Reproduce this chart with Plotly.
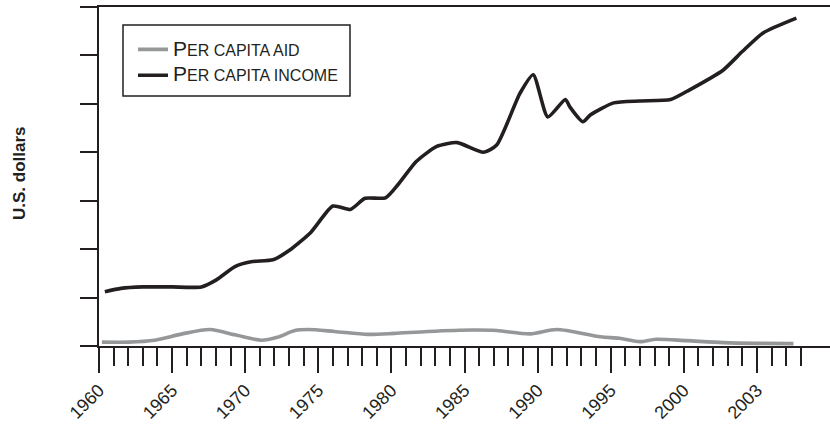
import plotly.graph_objects as go

# ---- data (y in axis units, axis has no numeric labels) ----
income_years = [1960.4, 1961.5, 1963.0, 1965.0, 1967.0, 1968.0, 1969.3, 1970.4, 1971.9, 1973.0,
                1974.5, 1976.0, 1977.2, 1978.2, 1979.6, 1980.5, 1981.7, 1983.1, 1984.5, 1986.3,
                1987.2, 1988.8, 1989.7, 1990.7, 1991.9, 1992.2, 1993.1, 1993.6, 1995.2, 1997.0,
                1999.1, 2000.4, 2002.7, 2004.0, 2005.4, 2007.7]
income_values = [1.12, 1.19, 1.22, 1.22, 1.22, 1.36, 1.64, 1.74, 1.78, 1.97,
                 2.35, 2.89, 2.82, 3.05, 3.06, 3.35, 3.81, 4.12, 4.20, 4.00,
                 4.15, 5.22, 5.60, 4.73, 5.09, 4.94, 4.63, 4.77, 5.02, 5.06,
                 5.09, 5.29, 5.70, 6.08, 6.46, 6.77]

aid_years = [1960.2, 1962.0, 1963.8, 1965.7, 1967.6, 1969.3, 1971.1, 1972.2, 1973.4, 1974.3,
             1976.1, 1978.4, 1980.2, 1982.5, 1985.6, 1987.2, 1989.5, 1991.3, 1994.3, 1995.6,
             1997.0, 1998.1, 2000.2, 2002.7, 2005.0, 2007.5]
aid_values = [0.08, 0.08, 0.12, 0.25, 0.34, 0.23, 0.12, 0.18, 0.32, 0.34,
              0.30, 0.24, 0.26, 0.30, 0.33, 0.32, 0.25, 0.34, 0.19, 0.16,
              0.09, 0.14, 0.11, 0.07, 0.055, 0.05]

label_years = [1960, 1965, 1970, 1975, 1980, 1985, 1990, 1995, 2000, 2005]
label_texts = ["1960", "1965", "1970", "1975", "1980", "1985", "1990", "1995", "2000", "2003"]
minor_years = [y for y in range(1960, 2009) if y % 5 != 0]

series_names = ["<span style='font-size:21px'>P</span>ER CAPITA AID",
                "<span style='font-size:21px'>P</span>ER CAPITA INCOME"]

INK = "#231f20"
GREY = "#959799"
FONT = "Liberation Sans, Arial, sans-serif"

fig = go.Figure()
fig.add_trace(go.Scatter(x=aid_years, y=aid_values, mode="lines", name=series_names[0],
                         legendgroup="a",
                         line=dict(color=GREY, width=3.6, shape="spline", smoothing=0.8)))
fig.add_trace(go.Scatter(x=income_years, y=income_values, mode="lines", name=series_names[1],
                         legendgroup="b",
                         line=dict(color=INK, width=3.6, shape="spline", smoothing=0.6)))

W, H = 830, 424
L, R, T, B = 99, 0, 7, 78
pw, ph = W - L - R, H - T - B

def px_x(x):
    return (x - L) / pw

def px_y(y):
    return (H - B - y) / ph

# legend frame
fig.add_shape(type="rect", xref="paper", yref="paper",
              x0=px_x(123), x1=px_x(350), y0=px_y(96), y1=px_y(25),
              line=dict(color=INK, width=1.5), fillcolor="rgba(0,0,0,0)", layer="above")

fig.add_annotation(text="<b>U.S. dollars</b>", xref="paper", yref="paper",
                   x=px_x(19), y=px_y(173), textangle=-90, showarrow=False,
                   font=dict(family=FONT, size=17, color=INK),
                   xanchor="center", yanchor="middle")

fig.update_layout(
    width=W, height=H,
    margin=dict(l=L, r=R, t=T, b=B, pad=0),
    paper_bgcolor="white", plot_bgcolor="white",
    font=dict(family=FONT, size=16, color=INK),
    showlegend=True,
    legend=dict(x=px_x(133), y=px_y(32.5), xanchor="left", yanchor="top",
                bgcolor="rgba(0,0,0,0)", borderwidth=0,
                font=dict(family=FONT, size=16, color=INK),
                traceorder="grouped", tracegroupgap=2),
    xaxis=dict(range=[1960, 2010], showgrid=False, zeroline=False,
               showline=True, linecolor=INK, linewidth=1.6, mirror=True,
               ticks="outside", ticklen=25, tickwidth=1.6, tickcolor=INK,
               tickmode="array", tickvals=label_years, ticktext=label_texts,
               tickangle=-45, tickfont=dict(family=FONT, size=18, color=INK),
               automargin=False,
               minor=dict(tickmode="array", tickvals=minor_years, ticks="outside",
                          ticklen=18, tickwidth=1.6, tickcolor=INK, showgrid=False)),
    yaxis=dict(range=[0, 7], showgrid=False, zeroline=False,
               showline=True, linecolor=INK, linewidth=1.6,
               ticks="outside", ticklen=17, tickwidth=1.6, tickcolor=INK,
               tickmode="array", tickvals=[0, 1, 2, 3, 4, 5, 6, 7],
               showticklabels=False, automargin=False),
)

fig.write_html("out.html", config={"displayModeBar": False},
               post_script="document.body.style.margin='0';document.body.style.padding='0';")
